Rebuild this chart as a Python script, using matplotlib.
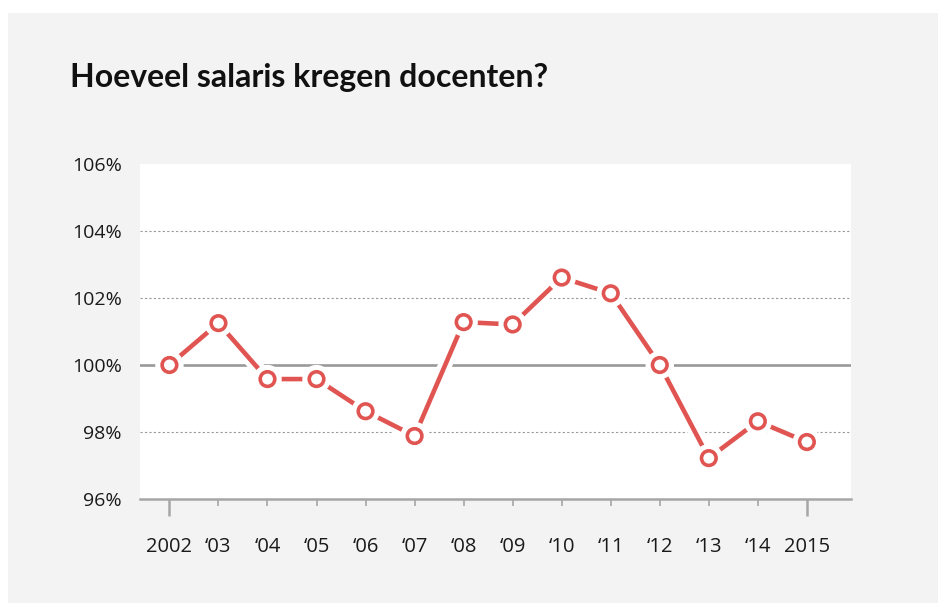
import matplotlib
matplotlib.use("Agg")
import matplotlib.pyplot as plt
import matplotlib.patheffects as pe
from matplotlib.patches import Rectangle

plt.rcParams["font.family"] = ["Open Sans", "DejaVu Sans"]

# salaris index per jaar (2002 = 100%)
jaren = ["2002", "\u201803", "\u201804", "\u201805", "\u201806", "\u201807", "\u201808",
         "\u201809", "\u201810", "\u201811", "\u201812", "\u201813", "\u201814", "2015"]
salaris = [100.0, 101.25, 99.58, 99.58, 98.62, 97.88, 101.28,
           101.21, 102.61, 102.14, 100.0, 97.22, 98.32, 97.70]
y_ticks = [96, 98, 100, 102, 104, 106]
y_labels = ["96%", "98%", "100%", "102%", "104%", "106%"]

rood = "#e05551"
grijs = "#a6a6a6"

fig = plt.figure(figsize=(9.38, 6.03), dpi=100)
fig.patch.set_facecolor("white")
fig.patches.append(Rectangle((8 / 938, 0), 1 - 8 / 938, 1 - 13 / 603,
                             transform=fig.transFigure, facecolor="#f3f3f3",
                             edgecolor="none", zorder=-10))

ax = fig.add_axes([140 / 938, 104 / 603, 711 / 938, 335 / 603])
ax.set_facecolor("white")
ax.set_zorder(1)

x = list(range(len(jaren)))

# rasterlijnen
for t in y_ticks[1:-1]:
    if t == 100:
        ax.axhline(t, color="#999999", lw=1.9, zorder=1)
    else:
        ax.axhline(t, color="#999999", lw=0.8, ls=(0, (2, 2)), zorder=1)

ax.plot(x, salaris, color=rood, lw=3.3, marker="o", markersize=10.5,
        markerfacecolor="white", markeredgecolor=rood, markeredgewidth=2.6,
        zorder=3, solid_capstyle="round",
        path_effects=[pe.withStroke(linewidth=10, foreground="white")])

ax.set_xlim(-0.6, 13.9)
ax.set_ylim(96, 106)
ax.set_yticks(y_ticks)
ax.set_yticklabels(y_labels)
ax.set_xticks(x)
ax.set_xticklabels(jaren)

for s in ["top", "right", "left"]:
    ax.spines[s].set_visible(False)
ax.spines["bottom"].set_color(grijs)
ax.spines["bottom"].set_linewidth(1.8)

ax.tick_params(axis="y", length=0, pad=13, labelsize=14, labelcolor="#1a1a1a")
ax.tick_params(axis="x", length=5, width=1.2, color=grijs, pad=22,
               labelsize=14.5, labelcolor="#1a1a1a")
ticks = ax.xaxis.get_major_ticks()
for i in [0, len(ticks) - 1]:
    ticks[i].tick1line.set_markersize(12)
    ticks[i].tick1line.set_markeredgewidth(1.8)

fig.text(70 / 938, 1 - 78 / 603, "Hoeveel salaris kregen docenten?",
         fontsize=23, fontweight="bold", family="Lato", color="#111111",
         va="center", ha="left")

fig.savefig("out.png", dpi=100, facecolor=fig.get_facecolor())
